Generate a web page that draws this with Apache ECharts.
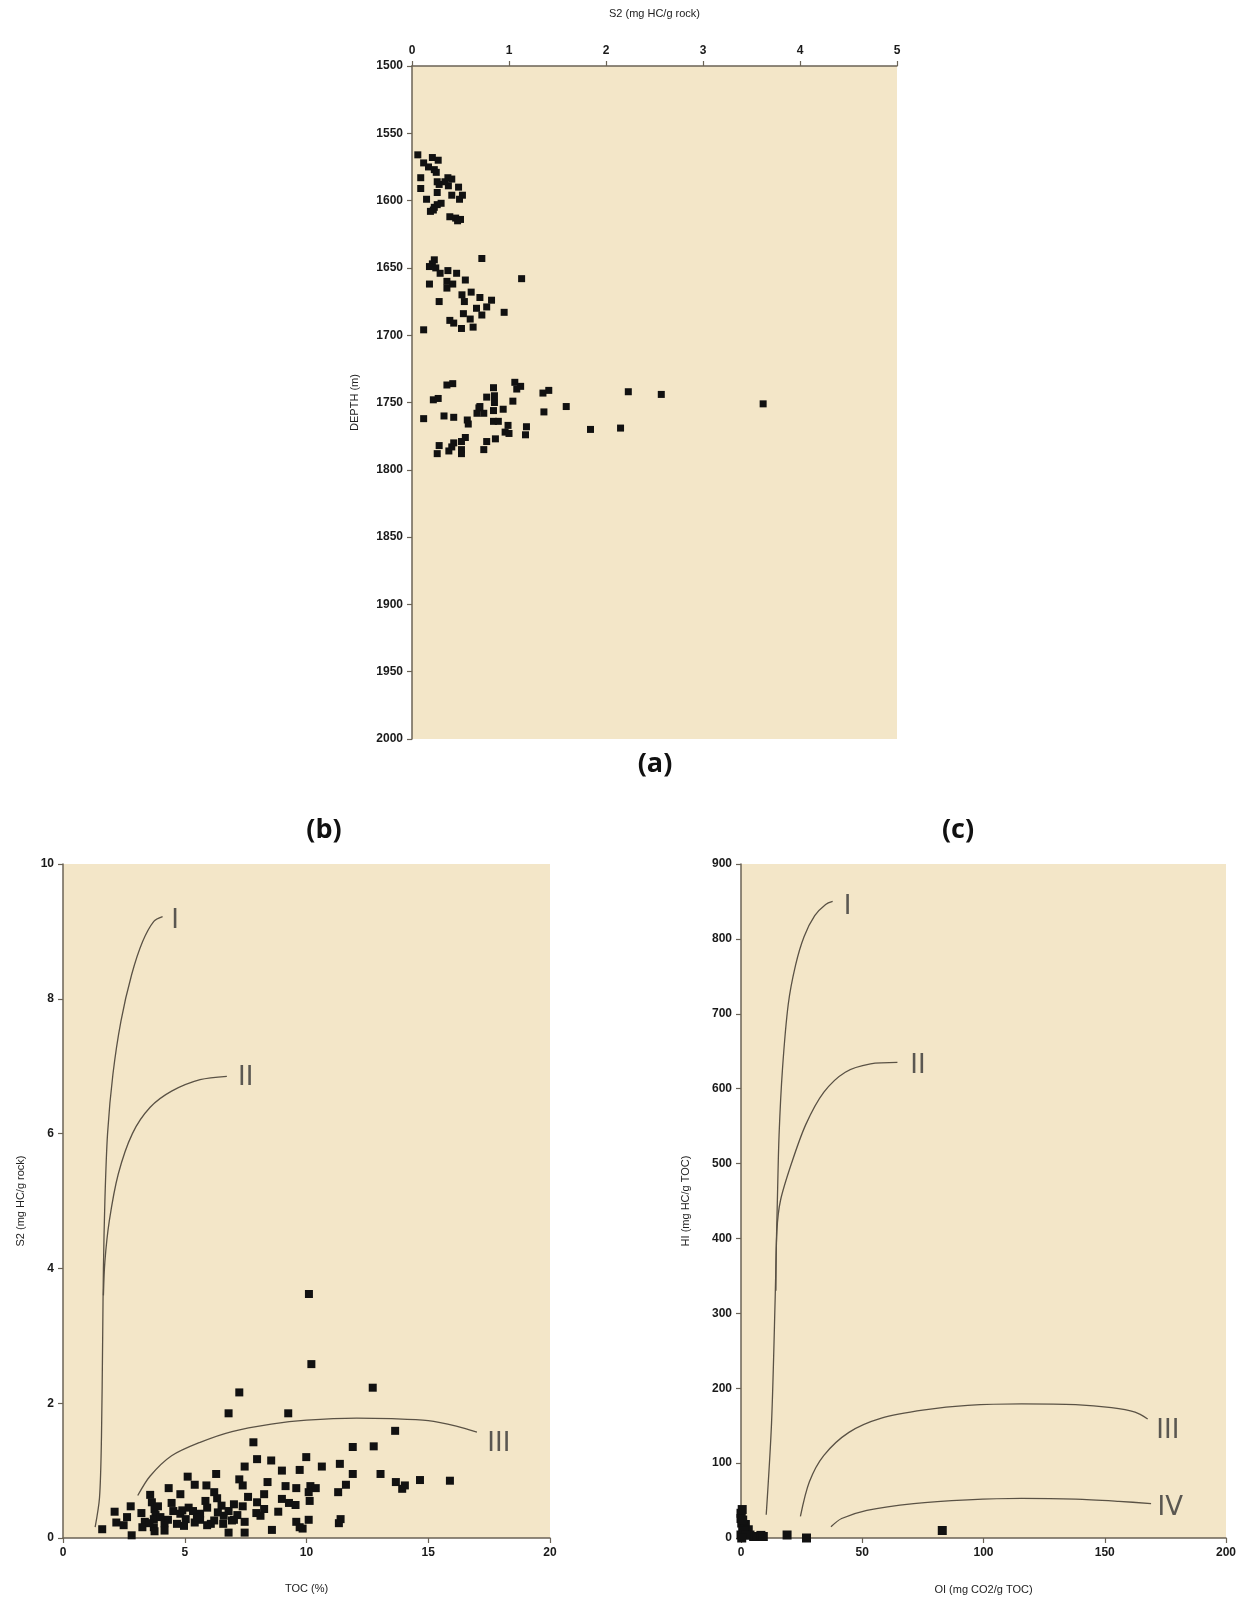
<!DOCTYPE html>
<html>
<head>
<meta charset="utf-8">
<script src="https://cdn.jsdelivr.net/npm/echarts@6/dist/echarts.min.js"></script>
<style>
  html, body { margin: 0; padding: 0; background: #fff; }
  #chart { width: 1248px; height: 1598px; }
</style>
</head>
<body>
<div id="chart"></div>
<script>
// (a) S2 vs depth
var s2A = [
  0.06,0.12,0.21,0.27,0.17,0.23,0.25,0.09,0.37,0.41,0.26,0.28,0.09,0.375,0.48,0.26,0.41,0.52,0.49,0.15,0.30,0.26,0.22,0.19,0.39,0.45,0.50,0.47,0.23,0.34,
  0.72,1.13,0.23,0.21,0.18,0.245,0.29,0.37,0.46,0.55,0.18,0.36,0.42,0.36,0.515,0.61,0.70,0.82,0.28,0.54,0.77,0.665,0.72,0.95,0.53,0.39,0.43,0.60,0.51,0.63,0.12,
  1.06,1.12,1.08,0.36,0.42,0.84,1.41,1.35,2.23,2.57,0.77,0.85,0.22,0.27,1.04,0.85,3.62,0.70,0.69,1.59,0.94,0.84,1.36,0.67,0.74,0.33,0.43,0.12,0.57,0.58,
  0.84,0.89,0.99,1.18,0.96,1.00,1.17,1.84,2.15,0.86,0.77,0.55,0.51,0.43,0.28,0.38,0.51,0.26,0.74,0.51,0.41
];
var depthA = [
  1566,1572,1568,1570,1575,1577,1579,1583,1583,1584,1586,1588,1591,1589,1590,1594,1596,1596,1599,1599,1602,1603,1607,1608,1612,1613,1614,1615,1605,1586,
  1643,1658,1644,1647,1649,1650,1654,1652,1654,1659,1662,1660,1662,1665,1670,1668,1672,1674,1675,1675,1679,1680,1685,1683,1684,1689,1691,1688,1695,1694,1696,
  1735,1738,1740,1737,1736,1739,1741,1743,1742,1744,1746,1745,1748,1747,1749,1750,1751,1753,1754,1753,1755,1756,1757,1758,1758,1760,1761,1762,1763,1766,
  1764,1764,1767,1768,1772,1773,1774,1770,1769,1777,1779,1776,1779,1780,1782,1786,1785,1788,1785,1788,1783
];

// (b) TOC vs S2
var tocB = [
  10.1,10.2,7.24,12.72,6.8,9.25,13.64,7.82,11.9,12.76,7.97,8.55,9.99,7.46,10.63,11.37,8.99,9.72,6.29,5.12,
  7.24,11.9,13.04,14.66,15.89,13.67,14.04,13.93,8.40,5.41,5.89,7.38,9.14,9.58,10.16,10.38,11.62,4.34,6.21,8.26,
  4.82,11.3,10.09,3.58,7.60,6.33,8.99,5.85,7.97,7.02,9.28,9.55,10.13,3.65,4.46,2.78,5.16,6.51,7.38,3.76,
  4.53,5.34,5.92,6.80,8.26,8.84,2.12,3.22,3.80,4.82,5.63,6.36,7.16,7.94,8.11,2.63,3.73,4.31,5.04,5.63,
  6.21,7.02,2.19,3.36,4.17,4.68,5.41,6.07,6.94,7.46,9.58,10.09,11.4,11.33,2.49,3.26,3.73,4.97,5.92,6.58,
  9.72,1.61,4.17,3.76,8.58,9.84,2.82,6.8,7.46,3.55,4.0,5.5,6.6,4.9,3.9
];
var s2B = [
  3.62,2.58,2.16,2.23,1.85,1.85,1.59,1.42,1.35,1.36,1.17,1.15,1.20,1.06,1.06,1.10,1.00,1.01,0.95,0.91,
  0.87,0.95,0.95,0.86,0.85,0.83,0.78,0.73,0.83,0.79,0.78,0.78,0.77,0.74,0.77,0.74,0.79,0.74,0.68,0.65,
  0.65,0.68,0.68,0.64,0.61,0.59,0.58,0.55,0.53,0.50,0.52,0.49,0.55,0.53,0.52,0.47,0.45,0.48,0.47,0.43,
  0.40,0.40,0.45,0.40,0.43,0.39,0.39,0.37,0.34,0.36,0.36,0.38,0.34,0.37,0.33,0.31,0.28,0.27,0.28,0.27,
  0.26,0.27,0.23,0.24,0.22,0.21,0.23,0.21,0.26,0.24,0.24,0.27,0.28,0.22,0.19,0.16,0.16,0.18,0.19,0.21,
  0.16,0.13,0.11,0.10,0.12,0.14,0.04,0.08,0.08,0.22,0.31,0.30,0.33,0.41,0.47
];

// (c) OI vs HI
var oiC = [0,0,0.3,0.7,0,1.8,3,3.7,5.2,6.7,8.2,9.2,19,27,83,1.2,2.2,0.3,0.7,0.5];
var hiC = [33,26,20,13,4,18,11,4,2,2,3.5,2,4,0,10,9,4,0,24,38];

// evolution curves [x, y]
var curveB_I = [[1.32,0.16],[1.5,0.6],[1.58,1.5],[1.63,3.0],[1.66,4.0],[1.72,5.0],[1.83,6.0],[2.05,6.88],[2.38,7.67],[2.82,8.36],[3.27,8.85],[3.73,9.15],[4.09,9.22]];
var curveB_II = [[1.66,3.6],[1.72,4.1],[1.9,4.7],[2.27,5.4],[2.85,6.0],[3.58,6.39],[4.46,6.63],[5.63,6.8],[6.73,6.85]];
var curveB_III = [[3.07,0.63],[3.58,0.92],[4.46,1.22],[5.63,1.42],[6.94,1.58],[8.55,1.69],[10.0,1.75],[12.06,1.78],[13.5,1.77],[15.0,1.74],[16.15,1.66],[17.0,1.57]];
var labelsB = [['I',4.6,9.15],['II',7.5,6.82],['III',17.9,1.39]];

var curveC_I = [[10.4,31],[12.6,154],[14.1,321],[14.5,382],[15.0,451],[15.7,538],[17.1,626],[19.5,713],[22.5,765],[26.0,803],[30.4,831],[34.9,846],[37.8,850]];
var curveC_II = [[14.4,330],[14.8,410],[16.3,451],[20.8,500],[26.7,552],[34.1,595],[43.0,622],[53.4,633],[64.5,635]];
var curveC_III = [[24.5,29],[28.2,75],[34.1,110],[44.5,141],[57.9,160],[75.7,171],[93.5,177],[115.7,179],[138,178],[152.8,174],[162.5,168],[167.7,159]];
var curveC_IV = [[37.1,15],[41.5,26],[51.9,37],[71.2,46],[93.5,51],[115.7,53],[138,52],[155.8,49],[169.1,46]];
var labelsC = [['I',44,842],['II',73,630],['III',176,143],['IV',177,40]];

function zip(xs, ys) {
  return xs.map(function (x, i) { return [x, ys[i]]; });
}

var FONT = '"Liberation Sans", Arial, sans-serif';
var axisCol = '#6b6356';
var bg = '#f3e6c8';

function valAxis(o) {
  var a = {
    type: 'value',
    nameLocation: 'middle',
    nameTextStyle: { fontFamily: FONT, fontSize: 11, color: '#222' },
    axisLine: { show: true, lineStyle: { color: axisCol, width: 1.5 } },
    axisTick: { show: true, length: 5, lineStyle: { color: axisCol, width: 1.2 } },
    axisLabel: { fontFamily: FONT, fontSize: 12, color: '#1a1a1a', fontWeight: 'bold', margin: 9,
      formatter: function (v) { return String(v); } },
    splitLine: { show: false }
  };
  for (var k in o) a[k] = o[k];
  return a;
}

function curve(data, xi) {
  return {
    type: 'line', xAxisIndex: xi, yAxisIndex: xi, data: data, smooth: 0.3,
    showSymbol: false, silent: true,
    lineStyle: { color: '#5a5245', width: 1.3 }
  };
}

function labels(list, xi) {
  return {
    type: 'scatter', xAxisIndex: xi, yAxisIndex: xi, symbolSize: 0, silent: true,
    data: list.map(function (l) { return { name: l[0], value: [l[1], l[2]] }; }),
    label: {
      show: true, position: 'inside', formatter: '{b}',
      fontFamily: '"DejaVu Sans", sans-serif', fontWeight: 'normal',
      fontSize: 26, color: '#333'
    }
  };
}

function dots(xi, size, data) {
  return {
    type: 'scatter', xAxisIndex: xi, yAxisIndex: xi, symbol: 'rect', symbolSize: size,
    itemStyle: { color: '#111', opacity: 1 }, data: data
  };
}

var chart = echarts.init(document.getElementById('chart'));
chart.setOption({
  animation: false,
  backgroundColor: '#ffffff',
  grid: [
    { left: 412, top: 66, width: 485, height: 673, show: true, backgroundColor: bg, borderWidth: 0 },
    { left: 63, top: 864, width: 487, height: 674, show: true, backgroundColor: bg, borderWidth: 0 },
    { left: 741, top: 864, width: 485, height: 674, show: true, backgroundColor: bg, borderWidth: 0 }
  ],
  xAxis: [
    valAxis({ gridIndex: 0, position: 'top', min: 0, max: 5, interval: 1, name: 'S2 (mg HC/g rock)', nameGap: 47 }),
    valAxis({ gridIndex: 1, min: 0, max: 20, interval: 5, name: 'TOC (%)', nameGap: 45 }),
    valAxis({ gridIndex: 2, min: 0, max: 200, interval: 50, name: 'OI (mg CO2/g TOC)', nameGap: 46 })
  ],
  yAxis: [
    valAxis({ gridIndex: 0, inverse: true, min: 1500, max: 2000, interval: 50, name: 'DEPTH (m)', nameGap: 52 }),
    valAxis({ gridIndex: 1, min: 0, max: 10, interval: 2, name: 'S2 (mg HC/g rock)', nameGap: 37 }),
    valAxis({ gridIndex: 2, min: 0, max: 900, interval: 100, name: 'HI (mg HC/g TOC)', nameGap: 50 })
  ],
  series: [
    dots(0, 7, zip(s2A, depthA)),
    curve(curveB_I, 1), curve(curveB_II, 1), curve(curveB_III, 1),
    dots(1, 8, zip(tocB, s2B)),
    labels(labelsB, 1),
    curve(curveC_I, 2), curve(curveC_II, 2), curve(curveC_III, 2), curve(curveC_IV, 2),
    dots(2, 9, zip(oiC, hiC)),
    labels(labelsC, 2)
  ],
  graphic: [
    { type: 'text', x: 655, y: 764, style: { text: '(a)', fontFamily: '"Open Sans", sans-serif', fontWeight: 'bold', fontSize: 27, fill: '#111', textAlign: 'center', textVerticalAlign: 'middle' } },
    { type: 'text', x: 324, y: 830, style: { text: '(b)', fontFamily: '"Open Sans", sans-serif', fontWeight: 'bold', fontSize: 27, fill: '#111', textAlign: 'center', textVerticalAlign: 'middle' } },
    { type: 'text', x: 958, y: 830, style: { text: '(c)', fontFamily: '"Open Sans", sans-serif', fontWeight: 'bold', fontSize: 27, fill: '#111', textAlign: 'center', textVerticalAlign: 'middle' } }
  ]
});
</script>
</body>
</html>
